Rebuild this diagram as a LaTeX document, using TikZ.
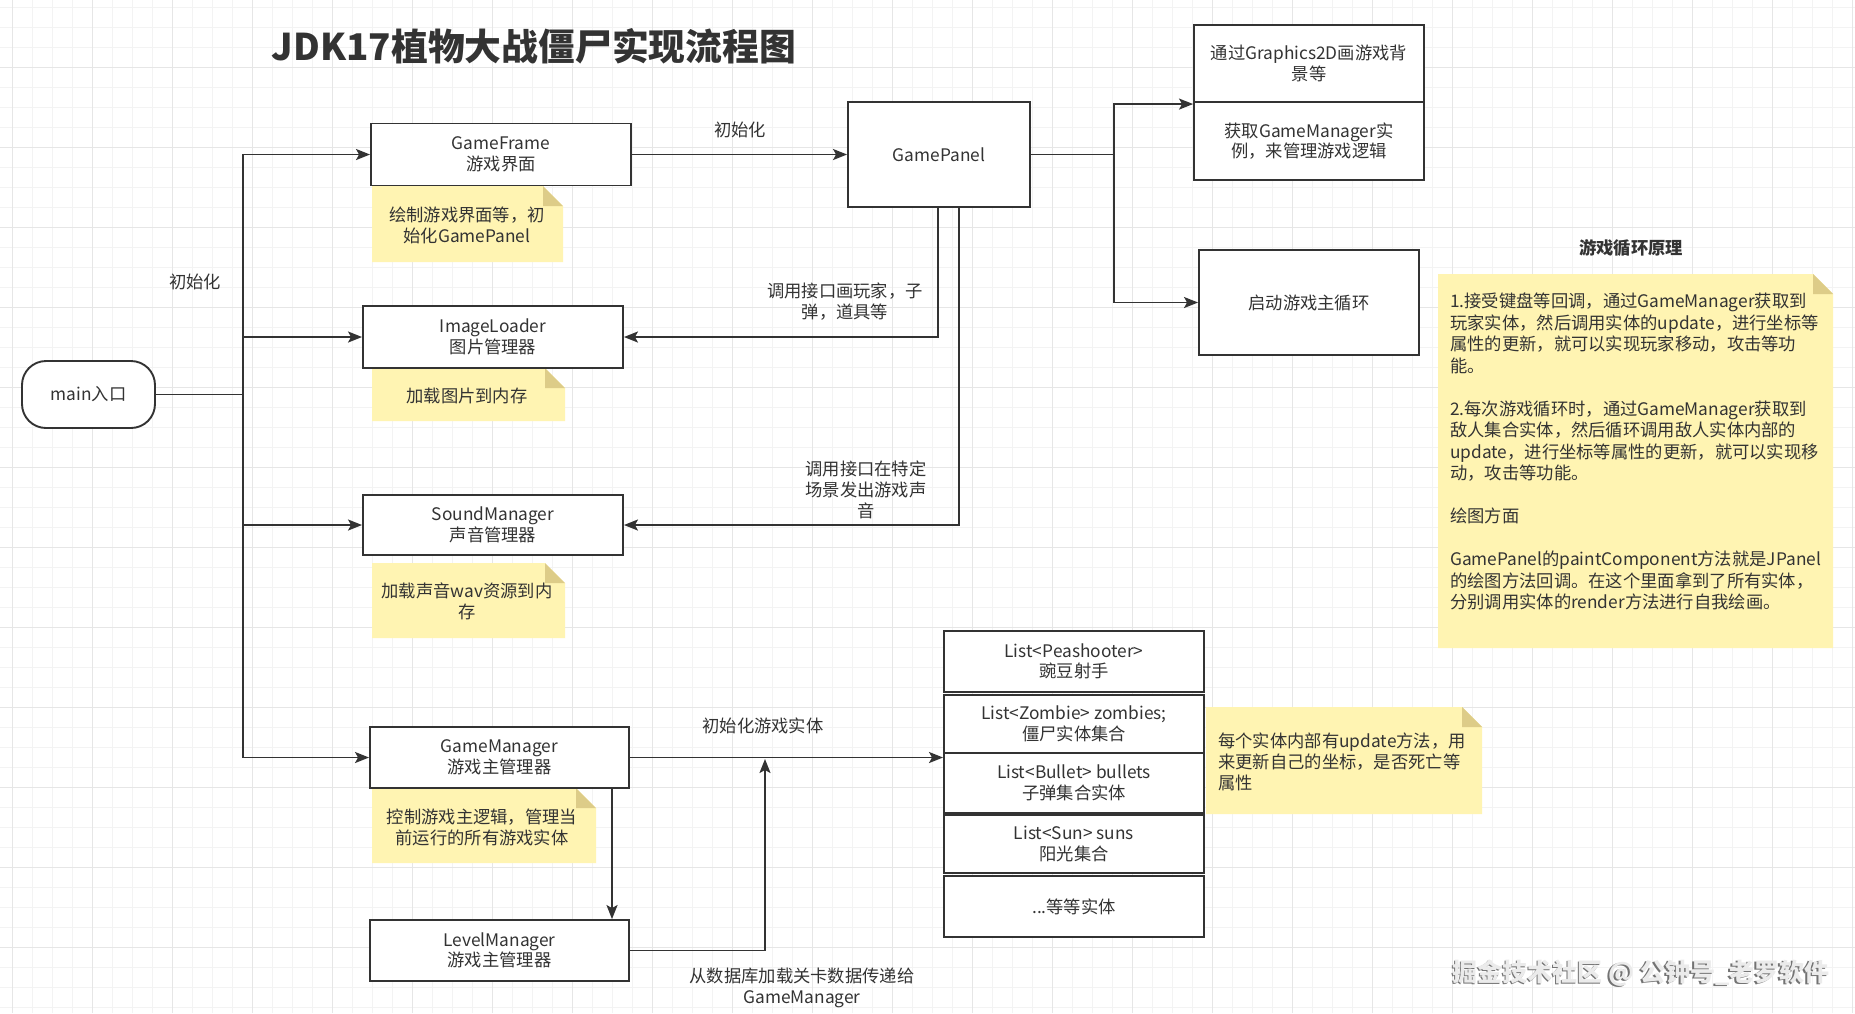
\documentclass[tikz,border=0pt]{standalone}
\usepackage{fontspec}
\setmainfont{Noto Sans CJK SC}
\usetikzlibrary{arrows.meta,calc}
\definecolor{ink}{HTML}{333333}
\definecolor{noteY}{HTML}{FFF4B2}
\definecolor{noteF}{HTML}{DDCC88}
\definecolor{gridMinor}{HTML}{F3F3F3}
\definecolor{gridMajor}{HTML}{E6E6E6}
\tikzset{
  box/.style={draw=ink, line width=1.9pt, fill=white, minimum width=260pt, minimum height=62pt, inner sep=2pt, align=center, text=ink, font=\fontsize{17.3}{20.5}\selectfont},
  lbl/.style={align=center, text=ink, inner sep=0pt, font=\fontsize{17.3}{21}\selectfont},
  notetext/.style={align=center, text=ink, inner sep=0pt, font=\fontsize{17.3}{21}\selectfont},
  conn/.style={draw=ink, line width=1.9pt},
  arr/.style={conn, -{Stealth[length=14pt,width=11pt,inset=3pt]}},
}
% note macro: x0,y0,x1,y1
\newcommand{\notebg}[4]{%
  \fill[noteY] (#1,#2) -- (#3-20,#2) -- (#3,#2+20) -- (#3,#4) -- (#1,#4) -- cycle;
  \fill[noteF] (#3-20,#2) -- (#3,#2+20) -- (#3-20,#2+20) -- cycle;
}
\begin{document}
\begin{tikzpicture}[x=1pt,y=-1pt]
\useasboundingbox (0,0) rectangle (1855,1013);
\fill[white] (0,0) rectangle (1855,1013);
% grid
\foreach \gx in {12,32,...,1855} \draw[gridMinor, line width=0.8pt] (\gx,0) -- (\gx,1013);
\foreach \gy in {7,27,...,1013} \draw[gridMinor, line width=0.8pt] (0,\gy) -- (1855,\gy);
\foreach \gx in {12,92,...,1855} \draw[gridMajor, line width=1pt] (\gx,0) -- (\gx,1013);
\foreach \gy in {67,147,...,1013} \draw[gridMajor, line width=1pt] (0,\gy) -- (1855,\gy);

% title
\node[text=ink, font=\fontsize{36.8}{40}\selectfont\bfseries, inner sep=0pt] (title) at (534,46) {JDK17植物大战僵尸实现流程图};

% notes backgrounds
\notebg{372}{186}{563}{262}
\notebg{372}{368}{565}{421}
\notebg{372}{563}{565}{638}
\notebg{372}{788}{596}{863}
\notebg{1206}{707}{1482}{814}
\notebg{1438}{274}{1833}{648}

% main
\node[box, minimum width=133pt, minimum height=67pt, rounded corners=24pt] (main) at (88.5,394.5) {main入口};

% left column boxes
\node[box] (gf) at (501,154.5) {GameFrame\\游戏界面};
\node[box] (il) at (493,337) {ImageLoader\\图片管理器};
\node[box, minimum height=60pt] (sm) at (493,525) {SoundManager\\声音管理器};
\node[box, minimum width=259pt, minimum height=61pt] (gm) at (499.5,757.5) {GameManager\\游戏主管理器};
\node[box, minimum width=259pt, minimum height=61pt] (lm) at (499.5,950.5) {LevelManager\\游戏主管理器};

% GamePanel
\node[box, minimum width=182pt, minimum height=105pt] (gp) at (939,154.5) {GamePanel};

% top-right two-cell box
\node[box, minimum width=230pt, minimum height=77pt] (tr1) at (1309,63.5) {通过Graphics2D画游戏背\\景等};
\node[box, minimum width=230pt, minimum height=78pt] (tr2) at (1309,141) {获取GameManager实\\例，来管理游戏逻辑};
\node[box, minimum width=220pt, minimum height=105pt] (loop) at (1309,302.5) {启动游戏主循环};

% entity list stack
\node[box, minimum height=61pt] (b1) at (1074,661.5) {List<Peashooter>\\豌豆射手};
\node[box, minimum height=58pt] (b2) at (1074,724) {List<Zombie> zombies;\\僵尸实体集合};
\node[box, minimum height=60pt] (b3) at (1074,783) {List<Bullet> bullets\\子弹集合实体};
\node[box, minimum height=58pt] (b4) at (1074,844) {List<Sun> suns\\阳光集合};
\node[box, minimum height=61pt] (b5) at (1074,906.5) {...等等实体};

% note texts
\node[notetext] (n1) at (467,225) {绘制游戏界面等，初\\始化GamePanel};
\node[notetext] (n2) at (467,396) {加载图片到内存};
\node[notetext] (n3) at (467,601.5) {加载声音wav资源到内\\存};
\node[notetext] (n4) at (482,827) {控制游戏主逻辑，管理当\\前运行的所有游戏实体};
\node[notetext, align=left, anchor=west] (n5) at (1218,762) {每个实体内部有update方法，用\\来更新自己的坐标，是否死亡等\\属性};
\node[notetext, align=left, anchor=north west, font=\fontsize{17.3}{21.5}\selectfont] (n6) at (1450,293) {1.接受键盘等回调，通过GameManager获取到\\玩家实体，然后调用实体的update，进行坐标等\\属性的更新，就可以实现玩家移动，攻击等功\\能。\\[21.5pt]2.每次游戏循环时，通过GameManager获取到\\敌人集合实体，然后循环调用敌人实体内部的\\update，进行坐标等属性的更新，就可以实现移\\动，攻击等功能。\\[21.5pt]绘图方面\\[21.5pt]GamePanel的paintComponent方法就是JPanel\\的绘图方法回调。在这个里面拿到了所有实体，\\分别调用实体的render方法进行自我绘画。};
\node[lbl, font=\fontsize{17.3}{20}\selectfont\bfseries] (looptitle) at (1631,248) {游戏循环原理};

% labels
\node[lbl] (l1) at (740,130) {初始化};
\node[lbl] (l2) at (195,282) {初始化};
\node[lbl] (l3) at (845,302) {调用接口画玩家，子\\弹，道具等};
\node[lbl] (l4) at (866,490) {调用接口在特定\\场景发出游戏声\\音};
\node[lbl] (l5) at (763,726) {初始化游戏实体};
\node[lbl] (l6) at (802,988) {从数据库加载关卡数据传递给\\GameManager};

% connectors
\coordinate (bus) at (243,394.5);
\draw[arr] (main.east) -- (bus) |- (gf.west);
\draw[arr] (main.east) -- (bus) |- (il.west);
\draw[arr] (main.east) -- (bus) |- (sm.west);
\draw[arr] (main.east) -- (bus) |- (gm.west);

\draw[arr] (gf.east) -- (gp.west);

\coordinate (gpj) at (1114,154.5);
\draw[arr] (gp.east) -- (gpj) |- ([yshift=-3pt]tr2.north west);
\draw[arr] (gp.east) -- (gpj) |- (loop.west);

\draw[arr] ([xshift=-1pt]gp.south) |- (il.east);
\draw[arr] ([xshift=20pt]gp.south) |- (sm.east);

\draw[arr] (gm.east) -- (gm.east -| b3.west);
\draw[arr] ([xshift=112.5pt]gm.south) -- ([xshift=112.5pt]lm.north);
\coordinate (merge) at (765,759);
\draw[arr] (lm.east) -| (merge);

% watermark
\node[text=black!55, font=\fontsize{25}{30}\selectfont\bfseries, inner sep=0pt] (wms) at (1639.5,974.5) {掘金技术社区 @ 公钟号\_老罗软件};
\node[text=white!92!black, font=\fontsize{25}{30}\selectfont\bfseries, inner sep=0pt] (wm) at (1641,973) {掘金技术社区 @ 公钟号\_老罗软件};
\end{tikzpicture}
\end{document}
